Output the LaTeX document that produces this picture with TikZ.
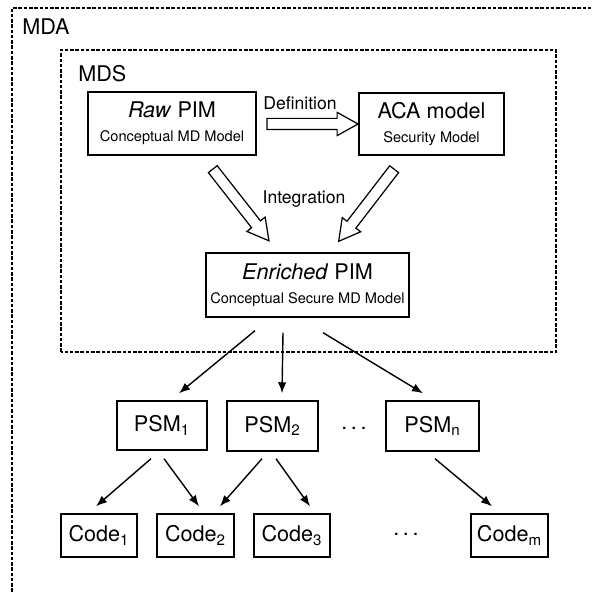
\documentclass[tikz,border=0pt]{standalone}
\usepackage{fontspec}
\setmainfont{TeX Gyre Heros}
\usetikzlibrary{shapes.arrows,arrows.meta}

\newcommand{\bigtxt}{\fontsize{12.3}{13.6}\selectfont}
\newcommand{\smalltxt}{\fontsize{8.3}{13.6}\selectfont}

\tikzset{
  frame/.style={draw, line width=0.6pt, dash pattern=on 2pt off 1pt},
  pimbox/.style={draw, line width=0.8pt, align=center, inner sep=0pt, font=\bigtxt},
  psmbox/.style={draw, line width=0.8pt, inner sep=0pt, font=\bigtxt},
  link/.style={line width=0.8pt, -{Latex[length=2.2mm,width=1.7mm]}},
  blockarrow/.style={single arrow, draw, line width=0.7pt, inner sep=0pt, text height=0.2cm, text depth=0pt,
    minimum height=1.82cm, single arrow head extend=0.12cm, single arrow tip angle=58, sloped, allow upside down}
}

\begin{document}
\begin{tikzpicture}
		\useasboundingbox (0,0) rectangle (11.86,11.92);

		% MDA and MDS frames
		\draw[frame] (0.24,0.08) -- (0.24,11.76) -- (11.86,11.76);
		\node[anchor=west, font=\bigtxt, inner sep=0pt] (mda) at (0.44,11.38) {MDA};
		\draw[frame] (1.22,4.88) rectangle (11.12,10.92);
		\node[anchor=west, font=\bigtxt, inner sep=0pt] (mds) at (1.56,10.44) {MDS};

		% models
		\node[pimbox, minimum width=3.36cm, minimum height=1.26cm] (rawpim) at (3.44,9.45)
			{\textit{Raw} PIM\\{\smalltxt Conceptual MD Model}};
		\node[pimbox, minimum width=2.9cm, minimum height=1.24cm] (aca) at (8.63,9.44)
			{ACA model\\{\smalltxt Security Model}};
		\node[pimbox, minimum width=4.06cm, minimum height=1.28cm] (enriched) at (6.15,6.22)
			{\textit{Enriched} PIM\\{\smalltxt Conceptual Secure MD Model}};

		\node[font=\fontsize{10}{12}\selectfont, inner sep=0pt] (deflabel) at (6.0,9.85) {Definition};
		\node[font=\fontsize{10}{12}\selectfont, inner sep=0pt] (intlabel) at (6.08,7.94) {Integration};

		\coordinate (deftail) at (5.24,9.44);
		\coordinate (defhead) at (7.06,9.44);
		\coordinate (intltail) at (4.19,8.62);
		\coordinate (intlhead) at (5.32,7.18);
		\coordinate (intrtail) at (7.94,8.61);
		\coordinate (intrhead) at (6.84,7.18);
		\path (deftail) -- (defhead) node[midway, blockarrow] (defarrow) {};
		\path (intltail) -- (intlhead) node[midway, blockarrow] (intlarrow) {};
		\path (intrtail) -- (intrhead) node[midway, blockarrow] (intrarrow) {};

		% PSMs
		\node[psmbox, minimum width=1.8cm, minimum height=0.98cm] (psm1) at (3.24,3.41) {PSM\textsubscript{1}};
		\node[psmbox, minimum width=1.82cm, minimum height=1.0cm] (psm2) at (5.45,3.40) {PSM\textsubscript{2}};
		\node[font=\bigtxt, inner sep=0pt] (psmdots) at (7.08,3.36) {.\,.\,.};
		\node[psmbox, minimum width=1.86cm, minimum height=1.0cm] (psmn) at (8.65,3.40) {PSM\textsubscript{n}};

		% code
		\node[psmbox, minimum width=1.52cm, minimum height=0.86cm] (code1) at (1.98,1.21) {Code\textsubscript{1}};
		\node[psmbox, minimum width=1.54cm, minimum height=0.86cm] (code2) at (3.91,1.21) {Code\textsubscript{2}};
		\node[psmbox, minimum width=1.52cm, minimum height=0.86cm] (code3) at (5.84,1.21) {Code\textsubscript{3}};
		\node[font=\bigtxt, inner sep=0pt] (codedots) at (8.12,1.24) {.\,.\,.};
		\node[psmbox, minimum width=1.54cm, minimum height=0.86cm] (codem) at (10.19,1.21) {Code\textsubscript{m}};

		\draw[link] ([xshift=-1.05cm,yshift=-0.26cm]enriched.south) -- ([xshift=0.34cm,yshift=0.14cm]psm1.north);
		\draw[link] ([xshift=-0.49cm,yshift=-0.30cm]enriched.south) -- ([xshift=0.19cm,yshift=0.14cm]psm2.north);
		\draw[link] ([xshift=0.31cm,yshift=-0.30cm]enriched.south) -- ([xshift=-0.19cm,yshift=0.14cm]psmn.north);

		\draw[link] ([xshift=-0.22cm,yshift=-0.16cm]psm1.south) -- ([xshift=-0.06cm,yshift=0.14cm]code1.north);
		\draw[link] ([xshift=0.04cm,yshift=-0.16cm]psm1.south) -- ([xshift=0.07cm,yshift=0.14cm]code2.north);
		\draw[link] ([xshift=-0.21cm,yshift=-0.14cm]psm2.south) -- ([xshift=0.49cm,yshift=0.14cm]code2.north);
		\draw[link] ([xshift=0.07cm,yshift=-0.14cm]psm2.south) -- ([xshift=0.36cm,yshift=0.14cm]code3.north);
		\draw[link] ([xshift=0.05cm,yshift=-0.14cm]psmn.south) -- ([xshift=-0.35cm,yshift=0.14cm]codem.north);

	\end{tikzpicture}
\end{document}
